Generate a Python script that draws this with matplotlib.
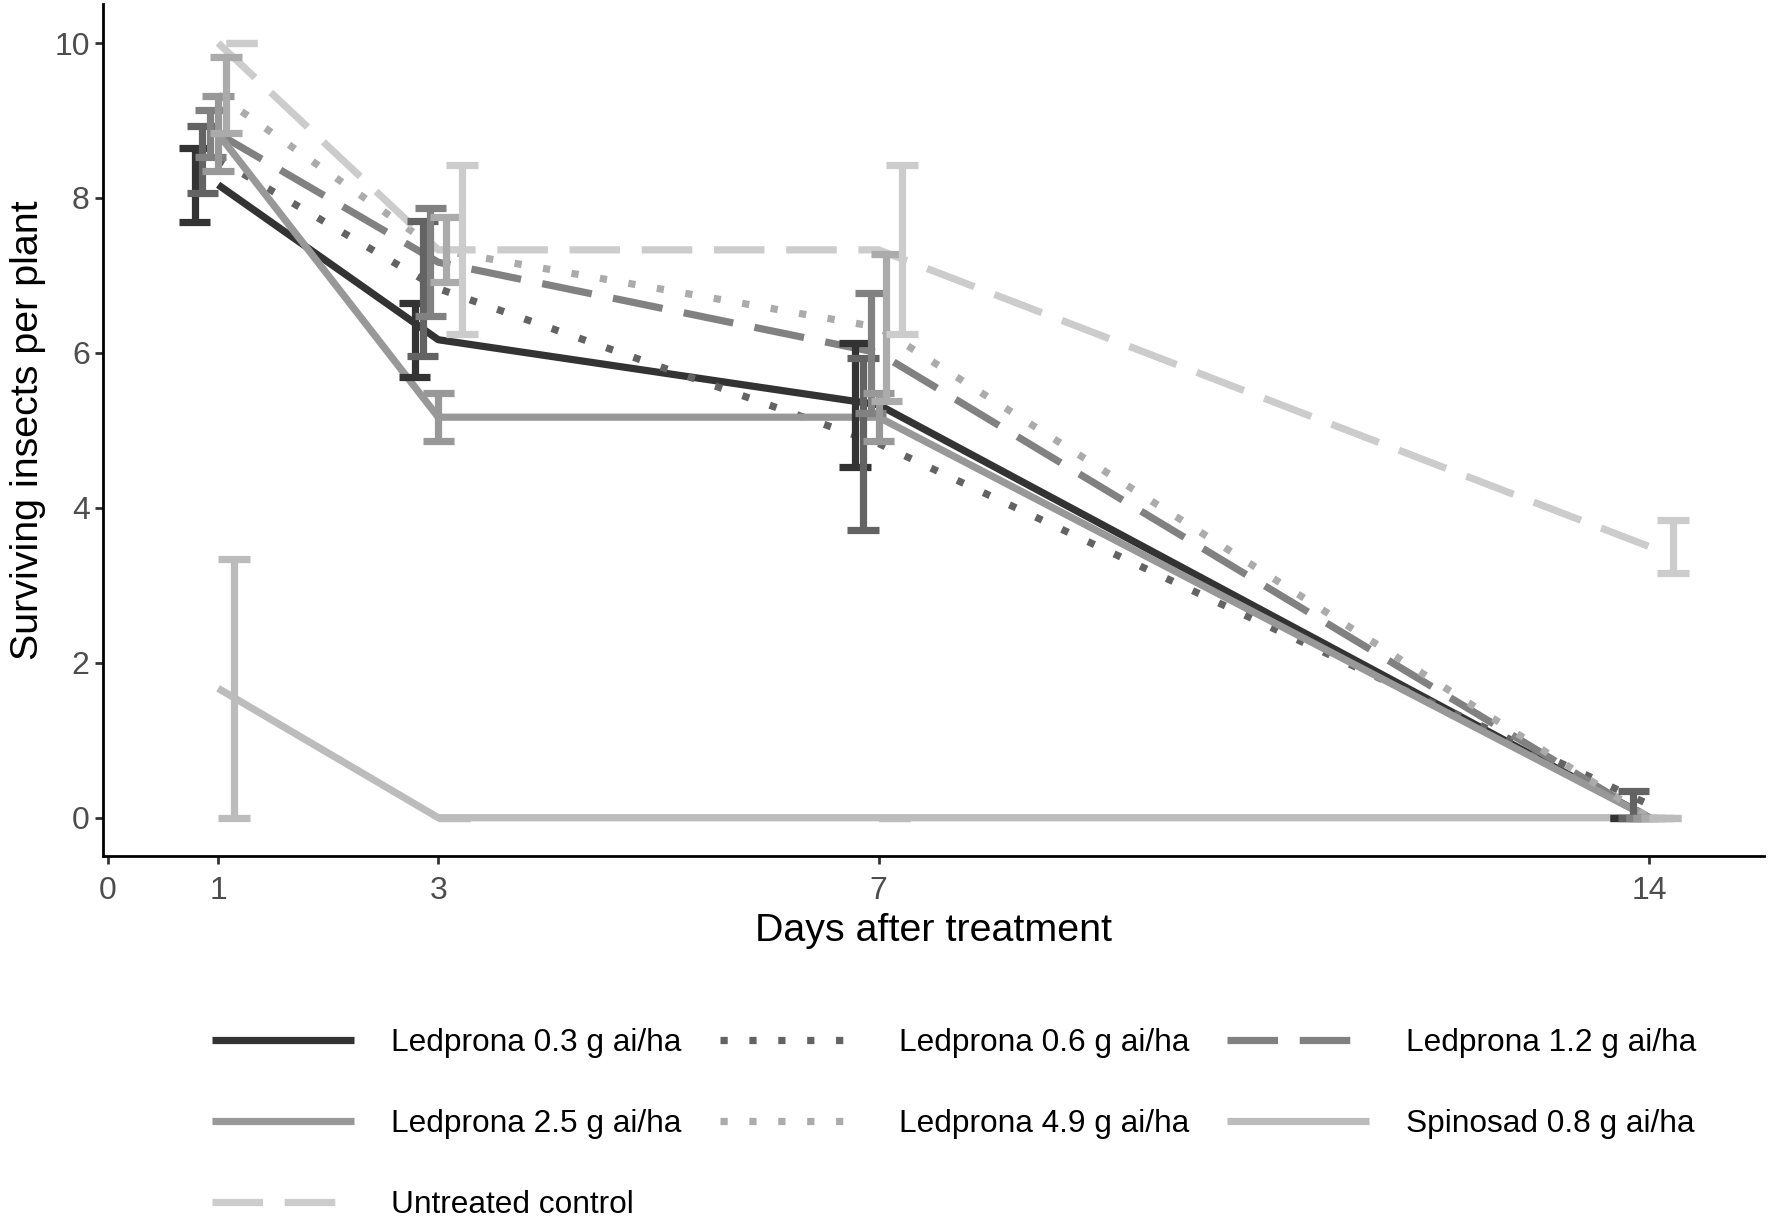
import matplotlib
matplotlib.use("Agg")
import matplotlib.pyplot as plt
import numpy as np

# ---------------- data ----------------
days = [1, 3, 7, 14]
treatments = ["Ledprona 0.3 g ai/ha", "Ledprona 0.6 g ai/ha", "Ledprona 1.2 g ai/ha",
              "Ledprona 2.5 g ai/ha", "Ledprona 4.9 g ai/ha", "Spinosad 0.8 g ai/ha",
              "Untreated control"]

mean_l03 = [8.17, 6.17, 5.33, 0.00]
mean_l06 = [8.50, 6.83, 4.83, 0.17]
mean_l12 = [8.83, 7.17, 6.00, 0.00]
mean_l25 = [8.83, 5.17, 5.17, 0.00]
mean_l49 = [9.33, 7.33, 6.33, 0.00]
mean_spi = [1.67, 0.00, 0.00, 0.00]
mean_utc = [10.00, 7.33, 7.33, 3.50]

se_l03 = [0.48, 0.48, 0.80, 0.00]
se_l06 = [0.43, 0.87, 1.11, 0.17]
se_l12 = [0.30, 0.70, 0.77, 0.00]
se_l25 = [0.48, 0.31, 0.31, 0.00]
se_l49 = [0.49, 0.42, 0.95, 0.00]
se_spi = [1.67, 0.00, 0.00, 0.00]
se_utc = [0.00, 1.09, 1.09, 0.34]

x_ticks = [0, 1, 3, 7, 14]
y_ticks = [0, 2, 4, 6, 8, 10]
x_title = "Days after treatment"
y_title = "Surviving insects per plant"

means = [mean_l03, mean_l06, mean_l12, mean_l25, mean_l49, mean_spi, mean_utc]
ses = [se_l03, se_l06, se_l12, se_l25, se_l49, se_spi, se_utc]

# ---------------- style ----------------
colors = ["#333333", "#636363", "#818181", "#989898", "#ABABAB", "#BCBCBC", "#CCCCCC"]
styles = ["solid", (0, (1, 3)), (0, (7, 3)), "solid", (0, (1, 3)), "solid", (0, (7, 3))]

plt.rcParams['font.family'] = ['Liberation Sans', 'DejaVu Sans']

fig = plt.figure(figsize=(17.72, 12.19), dpi=100)
ax = fig.add_axes([0.0583, 0.2974, 0.9372, 0.6991])

lw = 5.2
n = len(treatments)
dodge = 0.5
cap = 2.0 / n

handles = []
for i, (lab, m, s, c, ls) in enumerate(zip(treatments, means, ses, colors, styles)):
    m = np.array(m)
    line, = ax.plot(days, m, color=c, lw=lw, linestyle=ls, solid_capstyle='butt',
                    dash_capstyle='butt', zorder=2, label=lab)
    handles.append(line)

for i, (m, s, c) in enumerate(zip(means, ses, colors)):
    m = np.array(m)
    s = np.array(s)
    off = (i - (n - 1) / 2) * dodge / n
    xs = np.array(days, dtype=float) + off
    lo = m - s
    hi = m + s
    ax.vlines(xs, lo, hi, colors=c, lw=lw, zorder=3, capstyle='butt')
    ax.hlines(hi, xs - cap / 2, xs + cap / 2, colors=c, lw=lw, zorder=3, capstyle='butt')
    ax.hlines(lo, xs - cap / 2, xs + cap / 2, colors=c, lw=lw, zorder=3, capstyle='butt')

# limits (ggplot-like 5% expansion of the data range)
max_off = (n - 1) / 2 * dodge / n
xmin = min(days) - max_off - cap / 2
xmax = max(days) + max_off + cap / 2
xpad = 0.05 * (xmax - xmin)
ax.set_xlim(xmin - xpad, xmax + xpad)
ylo = min(min(np.array(m) - np.array(s)) for m, s in zip(means, ses))
yhi = max(max(np.array(m) + np.array(s)) for m, s in zip(means, ses))
ypad = 0.05 * (yhi - ylo)
ax.set_ylim(ylo - ypad, yhi + ypad)

ax.set_xticks(x_ticks)
ax.set_yticks(y_ticks)
ax.spines['top'].set_visible(False)
ax.spines['right'].set_visible(False)
for sp in ['left', 'bottom']:
    ax.spines[sp].set_linewidth(2.0)
    ax.spines[sp].set_color('black')
ax.tick_params(axis='both', length=5.8, width=2.0, color='#333333',
               labelsize=23, labelcolor='#4D4D4D')
ax.tick_params(axis='x', pad=8.5)
ax.tick_params(axis='y', pad=4)

ax.set_xlabel(x_title, fontsize=28.4, labelpad=4.8)
ax.set_ylabel(y_title, fontsize=28.4, labelpad=6)

order = [0, 3, 6, 1, 4, 2, 5]
fig.legend([handles[k] for k in order], [treatments[k] for k in order],
           ncol=3, loc='upper left', bbox_to_anchor=(0.1196, 0.157),
           frameon=False, fontsize=22.8, handlelength=4.49, handletextpad=1.17,
           columnspacing=1.2, labelspacing=1.61, borderpad=0, borderaxespad=0)

fig.savefig("out.png", dpi=100)
